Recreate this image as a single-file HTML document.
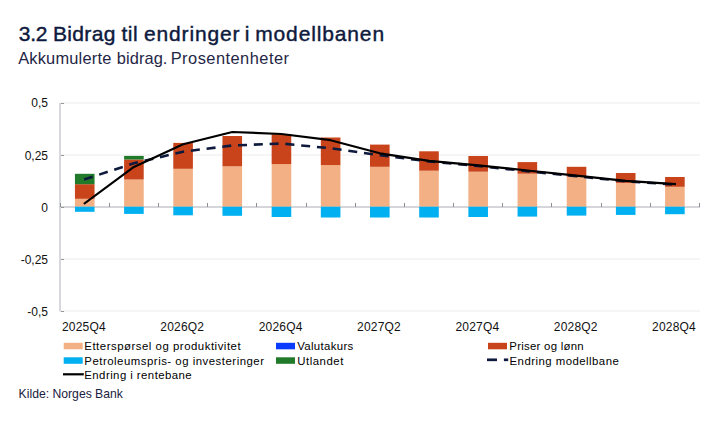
<!DOCTYPE html>
<html><head><meta charset="utf-8"><style>
html,body{margin:0;padding:0;background:#fff;width:722px;height:426px;overflow:hidden;}
body{position:relative;font-family:"Liberation Sans",sans-serif;}
.t{position:absolute;white-space:nowrap;line-height:1;}
svg{position:absolute;left:0;top:0;}
.ax{font-family:"Liberation Sans",sans-serif;font-size:12px;fill:#111;}
.ti{font-family:"Liberation Sans",sans-serif;font-size:21px;fill:#0e1a3d;stroke:#0e1a3d;stroke-width:0.42px;}
.su{font-family:"Liberation Sans",sans-serif;font-size:16.4px;fill:#1f2646;}
.lg{font-family:"Liberation Sans",sans-serif;font-size:11.4px;fill:#000;}
</style></head><body>
<svg width="722" height="426" viewBox="0 0 722 426">
<text x="18.75" y="40.9" textLength="28.60" lengthAdjust="spacing" class="ti">3.2</text><text x="52.90" y="40.9" textLength="62.50" lengthAdjust="spacing" class="ti">Bidrag</text><text x="121.40" y="40.9" textLength="16.37" lengthAdjust="spacing" class="ti">til</text><text x="144.00" y="40.9" textLength="95.53" lengthAdjust="spacing" class="ti">endringer</text><text x="244.80" y="40.9" class="ti">i</text><text x="255.20" y="40.9" textLength="128.87" lengthAdjust="spacing" class="ti">modellbanen</text>
<text x="18.20" y="64.1" textLength="93.09" lengthAdjust="spacing" class="su">Akkumulerte</text><text x="116.80" y="64.1" textLength="50.63" lengthAdjust="spacing" class="su">bidrag.</text><text x="170.70" y="64.1" textLength="118.28" lengthAdjust="spacing" class="su">Prosentenheter</text>
<text x="18.6" y="398.4" style="font-family:'Liberation Sans',sans-serif;font-size:12.2px;fill:#1a2140" textLength="104.3" lengthAdjust="spacing">Kilde: Norges Bank</text>
<line x1="60" y1="103.0" x2="700" y2="103.0" stroke="#ebebeb" stroke-width="1.2"/>
<line x1="60" y1="155.0" x2="700" y2="155.0" stroke="#ebebeb" stroke-width="1.2"/>
<line x1="60" y1="259.0" x2="700" y2="259.0" stroke="#ebebeb" stroke-width="1.2"/>
<line x1="60" y1="311.0" x2="700" y2="311.0" stroke="#ebebeb" stroke-width="1.2"/>
<line x1="60" y1="103" x2="60" y2="311.5" stroke="#d7d8db" stroke-width="2"/>
<line x1="59" y1="207" x2="700" y2="207" stroke="#d5d6d9" stroke-width="2"/>
<rect x="74.93" y="198.8" width="19.6" height="7.9" fill="#f3b084"/>
<rect x="74.93" y="184.2" width="19.6" height="14.6" fill="#c9441a"/>
<rect x="74.93" y="173.8" width="19.6" height="10.4" fill="#217a2a"/>
<rect x="74.93" y="206.7" width="19.6" height="5.1" fill="#00b0f0"/>
<rect x="124.11" y="179.5" width="19.6" height="27.2" fill="#f3b084"/>
<rect x="124.11" y="159.5" width="19.6" height="20.0" fill="#c9441a"/>
<rect x="124.11" y="155.9" width="19.6" height="3.6" fill="#217a2a"/>
<rect x="124.11" y="206.7" width="19.6" height="7.2" fill="#00b0f0"/>
<rect x="173.29" y="168.8" width="19.6" height="37.9" fill="#f3b084"/>
<rect x="173.29" y="142.9" width="19.6" height="25.9" fill="#c9441a"/>
<rect x="173.29" y="206.7" width="19.6" height="8.6" fill="#00b0f0"/>
<rect x="222.47" y="166.3" width="19.6" height="40.4" fill="#f3b084"/>
<rect x="222.47" y="136.0" width="19.6" height="30.3" fill="#c9441a"/>
<rect x="222.47" y="206.7" width="19.6" height="9.1" fill="#00b0f0"/>
<rect x="271.65" y="164.1" width="19.6" height="42.6" fill="#f3b084"/>
<rect x="271.65" y="134.3" width="19.6" height="29.8" fill="#c9441a"/>
<rect x="271.65" y="206.7" width="19.6" height="10.3" fill="#00b0f0"/>
<rect x="320.83" y="165.1" width="19.6" height="41.6" fill="#f3b084"/>
<rect x="320.83" y="137.5" width="19.6" height="27.6" fill="#c9441a"/>
<rect x="320.83" y="206.7" width="19.6" height="10.8" fill="#00b0f0"/>
<rect x="370.01" y="166.8" width="19.6" height="39.9" fill="#f3b084"/>
<rect x="370.01" y="144.6" width="19.6" height="22.2" fill="#c9441a"/>
<rect x="370.01" y="206.7" width="19.6" height="10.8" fill="#00b0f0"/>
<rect x="419.19" y="170.7" width="19.6" height="36.0" fill="#f3b084"/>
<rect x="419.19" y="151.3" width="19.6" height="19.4" fill="#c9441a"/>
<rect x="419.19" y="206.7" width="19.6" height="10.8" fill="#00b0f0"/>
<rect x="468.37" y="171.7" width="19.6" height="35.0" fill="#f3b084"/>
<rect x="468.37" y="156.0" width="19.6" height="15.7" fill="#c9441a"/>
<rect x="468.37" y="206.7" width="19.6" height="10.3" fill="#00b0f0"/>
<rect x="517.55" y="173.7" width="19.6" height="33.0" fill="#f3b084"/>
<rect x="517.55" y="162.1" width="19.6" height="11.6" fill="#c9441a"/>
<rect x="517.55" y="206.7" width="19.6" height="9.9" fill="#00b0f0"/>
<rect x="566.73" y="176.7" width="19.6" height="30.0" fill="#f3b084"/>
<rect x="566.73" y="166.8" width="19.6" height="9.9" fill="#c9441a"/>
<rect x="566.73" y="206.7" width="19.6" height="8.9" fill="#00b0f0"/>
<rect x="615.91" y="182.9" width="19.6" height="23.8" fill="#f3b084"/>
<rect x="615.91" y="173.0" width="19.6" height="9.9" fill="#c9441a"/>
<rect x="615.91" y="206.7" width="19.6" height="8.2" fill="#00b0f0"/>
<rect x="665.09" y="186.8" width="19.6" height="19.9" fill="#f3b084"/>
<rect x="665.09" y="177.0" width="19.6" height="9.8" fill="#c9441a"/>
<rect x="665.09" y="206.7" width="19.6" height="7.5" fill="#00b0f0"/>
<line x1="61" y1="103.5" x2="64" y2="103.5" stroke="#96979c" stroke-width="1"/>
<line x1="61" y1="155.5" x2="64" y2="155.5" stroke="#96979c" stroke-width="1"/>
<line x1="61" y1="207.5" x2="64" y2="207.5" stroke="#96979c" stroke-width="1"/>
<line x1="61" y1="259.5" x2="64" y2="259.5" stroke="#96979c" stroke-width="1"/>
<line x1="61" y1="311.5" x2="64" y2="311.5" stroke="#96979c" stroke-width="1"/>
<line x1="60.50" y1="203" x2="60.50" y2="207" stroke="#8e8f94" stroke-width="1"/>
<line x1="109.50" y1="203" x2="109.50" y2="207" stroke="#8e8f94" stroke-width="1"/>
<line x1="158.50" y1="203" x2="158.50" y2="207" stroke="#8e8f94" stroke-width="1"/>
<line x1="207.50" y1="203" x2="207.50" y2="207" stroke="#8e8f94" stroke-width="1"/>
<line x1="256.50" y1="203" x2="256.50" y2="207" stroke="#8e8f94" stroke-width="1"/>
<line x1="306.50" y1="203" x2="306.50" y2="207" stroke="#8e8f94" stroke-width="1"/>
<line x1="355.50" y1="203" x2="355.50" y2="207" stroke="#8e8f94" stroke-width="1"/>
<line x1="404.50" y1="203" x2="404.50" y2="207" stroke="#8e8f94" stroke-width="1"/>
<line x1="453.50" y1="203" x2="453.50" y2="207" stroke="#8e8f94" stroke-width="1"/>
<line x1="502.50" y1="203" x2="502.50" y2="207" stroke="#8e8f94" stroke-width="1"/>
<line x1="551.50" y1="203" x2="551.50" y2="207" stroke="#8e8f94" stroke-width="1"/>
<line x1="601.50" y1="203" x2="601.50" y2="207" stroke="#8e8f94" stroke-width="1"/>
<line x1="650.50" y1="203" x2="650.50" y2="207" stroke="#8e8f94" stroke-width="1"/>
<line x1="699.50" y1="203" x2="699.50" y2="207" stroke="#8e8f94" stroke-width="1"/>
<polyline points="83.8,179.6 133.9,163.3 183.1,151.7 232.3,145.5 281.4,143.5 330.6,148.3 379.8,155.2 429.0,161.4 478.2,166.0 527.4,171.2 576.5,176.3 625.7,181.3 674.9,184.6" fill="none" stroke="#0e1a3d" stroke-width="2.55" stroke-dasharray="9 6.82" stroke-dashoffset="-0.35"/>
<polyline points="84.7,203.3 133.9,166.9 183.1,144.3 232.3,132.0 281.4,134.0 330.6,140.2 379.8,153.3 429.0,160.9 478.2,165.3 527.4,170.5 576.5,175.6 625.7,180.8 674.9,184.0" fill="none" stroke="#000" stroke-width="2.2" stroke-linejoin="round" stroke-linecap="square"/>
<text x="48" y="107.3" text-anchor="end" class="ax">0,5</text>
<text x="48" y="159.8" text-anchor="end" class="ax">0,25</text>
<text x="48" y="211.5" text-anchor="end" class="ax">0</text>
<text x="48" y="264.1" text-anchor="end" class="ax">-0,25</text>
<text x="48" y="316.3" text-anchor="end" class="ax">-0,5</text>
<text x="62.0" y="331.2" class="ax" textLength="43.7" lengthAdjust="spacing">2025Q4</text>
<text x="160.3" y="331.2" class="ax" textLength="43.7" lengthAdjust="spacing">2026Q2</text>
<text x="258.7" y="331.2" class="ax" textLength="43.7" lengthAdjust="spacing">2026Q4</text>
<text x="357.1" y="331.2" class="ax" textLength="43.7" lengthAdjust="spacing">2027Q2</text>
<text x="455.4" y="331.2" class="ax" textLength="43.7" lengthAdjust="spacing">2027Q4</text>
<text x="553.8" y="331.2" class="ax" textLength="43.7" lengthAdjust="spacing">2028Q2</text>
<text x="652.1" y="331.2" class="ax" textLength="43.7" lengthAdjust="spacing">2028Q4</text>
<rect x="63.7" y="342.8" width="19" height="6.5" fill="#f3b084"/>
<text x="84.3" y="350" class="lg" textLength="156.3" lengthAdjust="spacing">Etterspørsel og produktivitet</text>
<rect x="63.7" y="357.3" width="19" height="6.5" fill="#00b0f0"/>
<text x="84.3" y="364.5" class="lg" textLength="179.7" lengthAdjust="spacing">Petroleumspris- og investeringer</text>
<line x1="63" y1="374.3" x2="83.8" y2="374.3" stroke="#000" stroke-width="2.2"/>
<text x="84.3" y="378.6" class="lg" textLength="107.4" lengthAdjust="spacing">Endring i rentebane</text>
<rect x="276" y="342.8" width="19" height="6.5" fill="#0a3cff"/>
<text x="297.2" y="350" class="lg" textLength="56.1" lengthAdjust="spacing">Valutakurs</text>
<rect x="276" y="357.3" width="19" height="6.5" fill="#217a2a"/>
<text x="297.2" y="364.5" class="lg" textLength="46.1" lengthAdjust="spacing">Utlandet</text>
<rect x="488" y="342.8" width="19" height="6.5" fill="#c9441a"/>
<text x="509.3" y="350" class="lg" textLength="74.3" lengthAdjust="spacing">Priser og lønn</text>
<line x1="487" y1="359.8" x2="497" y2="359.8" stroke="#0e1a3d" stroke-width="2.7"/>
<line x1="503.9" y1="359.8" x2="508.2" y2="359.8" stroke="#0e1a3d" stroke-width="2.7"/>
<text x="509.5" y="364.5" class="lg" textLength="109.3" lengthAdjust="spacing">Endring modellbane</text>
</svg>
</body></html>
